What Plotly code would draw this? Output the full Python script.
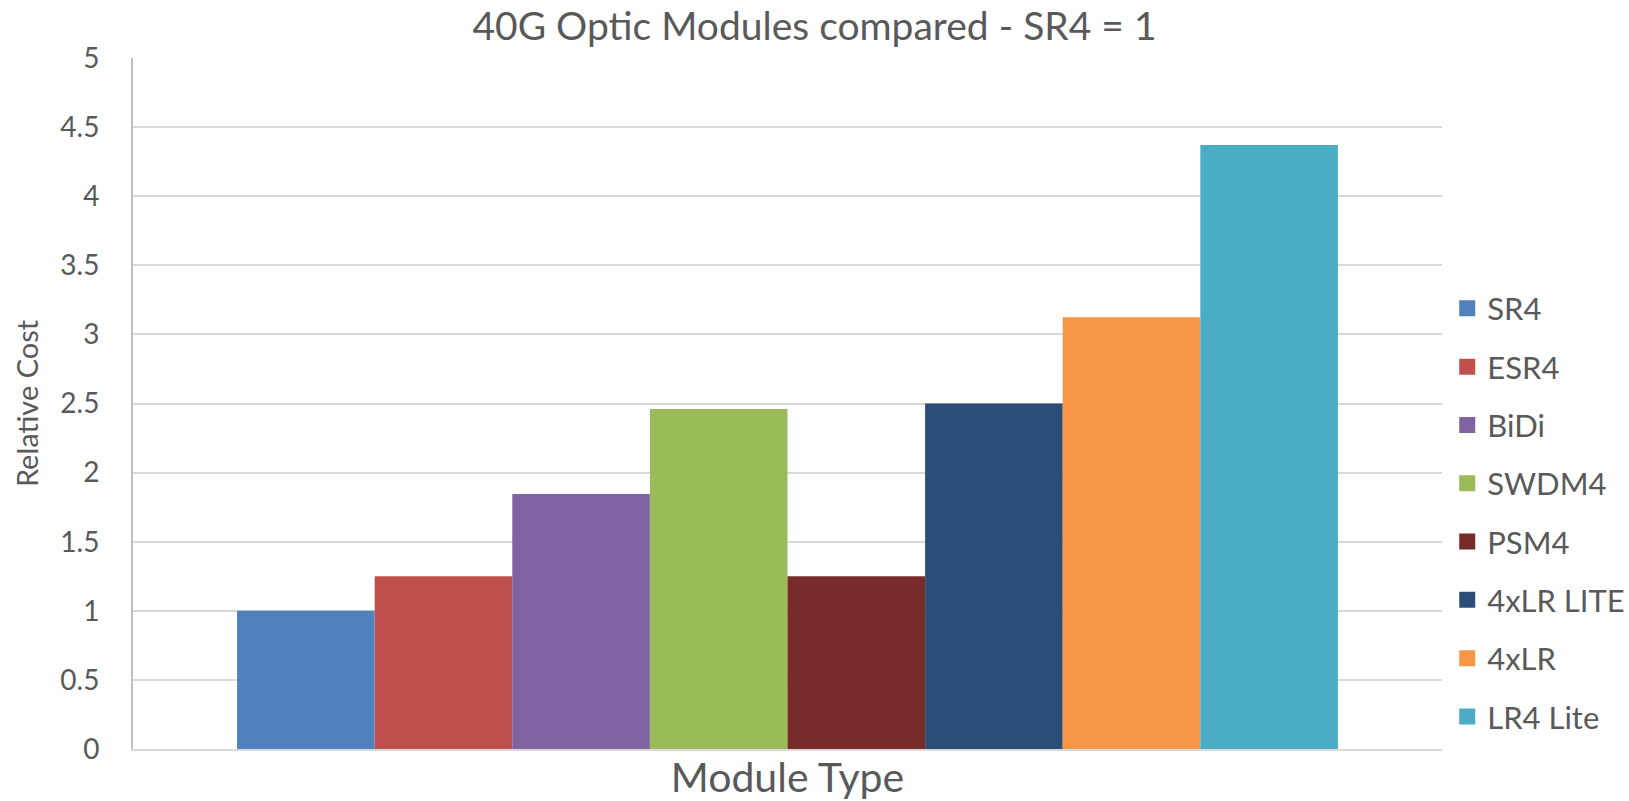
import plotly.graph_objects as go

# Relative cost of 40G optic modules, normalised so SR4 = 1
modules = ["SR4", "ESR4", "BiDi", "SWDM4", "PSM4", "4xLR LITE", "4xLR", "LR4 Lite"]
relative_cost = [1.0, 1.25, 1.845, 2.46, 1.25, 2.5, 3.125, 4.37]
colors = ["#4F81BD", "#C0504D", "#8064A2", "#9BBB59", "#772C2A", "#2C4D75", "#F79646", "#4BACC6"]
y_ticks = [0, 0.5, 1, 1.5, 2, 2.5, 3, 3.5, 4, 4.5, 5]
y_tick_text = ["0", "0.5", "1", "1.5", "2", "2.5", "3", "3.5", "4", "4.5", "5"]

FONT = "Lato"
TEXT = "#595959"

fig = go.Figure()
for name, val, col in zip(modules, relative_cost, colors):
    fig.add_trace(go.Bar(
        x=[0], y=[val], name=name, marker=dict(color=col, line=dict(width=0)),
        legendgroup=name, showlegend=False,
    ))
    # square legend swatch for each module
    fig.add_trace(go.Scatter(
        x=[None], y=[None], mode="markers", name=name, legendgroup=name,
        marker=dict(symbol="square", size=16, color=col),
    ))

fig.update_layout(
    width=1629, height=801,
    margin=dict(l=133, r=187, t=58, b=52, autoexpand=False),
    paper_bgcolor="white", plot_bgcolor="white",
    barmode="group", bargap=0.159, bargroupgap=0,
    font=dict(family=FONT, color=TEXT),
    title=dict(
        text="40G Optic Modules compared - SR4 = 1",
        font=dict(family=FONT, size=39, color=TEXT),
        x=0.5, xref="container", xanchor="center",
        y=0.967, yref="container", yanchor="middle",
    ),
    xaxis=dict(
        range=[-0.5, 0.5], showticklabels=False, showgrid=False, zeroline=False,
        showline=True, linecolor="#D9D9D9", linewidth=2, ticks="",
        title=dict(text="Module Type", font=dict(family=FONT, size=41, color=TEXT), standoff=22),
        fixedrange=True,
    ),
    yaxis=dict(
        range=[0, 5], tickvals=y_ticks, ticktext=y_tick_text,
        tickfont=dict(family=FONT, size=28, color=TEXT),
        showgrid=True, gridcolor="#D9D9D9", gridwidth=2,
        showline=True, linecolor="#BFBFBF", linewidth=2, zeroline=False,
        ticks="", ticklabelstandoff=26,
        title=dict(text="Relative Cost", font=dict(family=FONT, size=29, color=TEXT), standoff=13),
        fixedrange=True,
    ),
    legend=dict(
        x=1.004, xanchor="left", y=0.342, yanchor="middle",
        font=dict(family=FONT, size=31, color=TEXT),
        tracegroupgap=15, bgcolor="rgba(0,0,0,0)", borderwidth=0,
    ),
    showlegend=True,
)

fig.write_html("out.html")
